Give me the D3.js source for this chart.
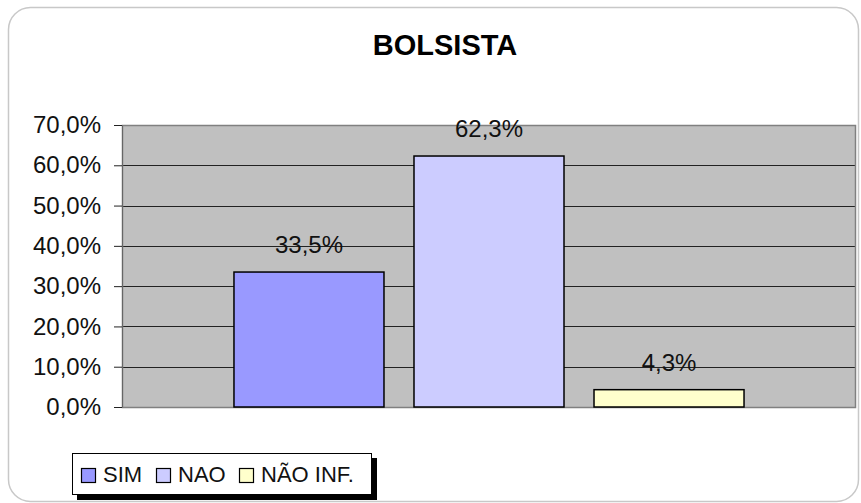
<!DOCTYPE html>
<html>
<head>
<meta charset="utf-8">
<script src="https://cdn.jsdelivr.net/npm/d3@7"></script>
<style>
  body { margin: 0; background: #fff; }
  svg text { font-family: "Liberation Sans", Arial, sans-serif; }
</style>
</head>
<body>
<div id="chart"></div>
<script>
const series = ["SIM", "NAO", "NÃO INF."];
const values = [33.5, 62.3, 4.3];
const colors = ["#9999ff", "#ccccff", "#ffffcc"];
const yTicks = [0, 10, 20, 30, 40, 50, 60, 70];

const W = 861, H = 503;
const margin = {top: 125, right: 5, bottom: 96, left: 122};
const pw = W - margin.left - margin.right,
      ph = H - margin.top - margin.bottom;

const fmt = v => d3.format(".1f")(v).replace(".", ",") + "%";

const svg = d3.select("#chart").append("svg")
    .attr("width", W).attr("height", H);

// outer frame
svg.append("rect")
    .attr("x", 8.5).attr("y", 7.5)
    .attr("width", 850).attr("height", 494)
    .attr("rx", 22).attr("ry", 22)
    .attr("fill", "#fff")
    .attr("stroke", "#c8c8c8")
    .attr("stroke-width", 1.5);

svg.append("text")
    .attr("x", 445).attr("y", 55)
    .attr("text-anchor", "middle")
    .style("font-size", "29px")
    .style("font-weight", "bold")
    .text("BOLSISTA");

const g = svg.append("g")
    .attr("transform", "translate(" + margin.left + "," + margin.top + ")");

const y = d3.scaleLinear().domain([0, 70]).range([ph, 0]);
const x = d3.scaleBand().domain(series).range([0, pw])
    .paddingInner(0.1667).paddingOuter(0.622);

g.append("rect")
    .attr("width", pw).attr("height", ph)
    .attr("fill", "#c0c0c0");

// gridlines
g.selectAll(".grid").data(yTicks.slice(1, -1))
  .enter().append("line")
    .attr("x1", 0).attr("x2", pw)
    .attr("y1", d => Math.round(y(d)) + 0.5)
    .attr("y2", d => Math.round(y(d)) + 0.5)
    .attr("stroke", "#222").attr("stroke-width", 1);

g.append("rect")
    .attr("x", 0.5).attr("y", 0.5)
    .attr("width", pw - 1).attr("height", ph)
    .attr("fill", "none")
    .attr("stroke", "#808080").attr("stroke-width", 1.5);

const yAxis = g.append("g")
    .call(d3.axisLeft(y).tickValues(yTicks).tickSize(8).tickPadding(13)
      .tickFormat(fmt).tickSizeOuter(0));
yAxis.select(".domain").attr("stroke", "#666");
yAxis.selectAll(".tick line").attr("stroke", "#222");
yAxis.selectAll("text")
    .style("font-size", "24px").attr("fill", "#111");

// bars
g.selectAll(".bar").data(values)
  .enter().append("rect")
    .attr("x", (d, i) => x(series[i]))
    .attr("y", d => y(d))
    .attr("width", x.bandwidth())
    .attr("height", d => ph - y(d))
    .attr("fill", (d, i) => colors[i])
    .attr("stroke", "#000").attr("stroke-width", 1.5);

g.selectAll(".lbl").data(values)
  .enter().append("text")
    .attr("x", (d, i) => x(series[i]) + x.bandwidth() / 2)
    .attr("y", d => y(d) - 19)
    .attr("text-anchor", "middle")
    .style("font-size", "24px")
    .attr("fill", "#111")
    .text(fmt);

// legend
const lg = svg.append("g").attr("transform", "translate(72,453)");
lg.append("rect")
    .attr("x", 5).attr("y", 5).attr("width", 300).attr("height", 42)
    .attr("fill", "#000");
lg.append("rect")
    .attr("x", 0.5).attr("y", 0.5).attr("width", 299).attr("height", 41)
    .attr("fill", "#fff").attr("stroke", "#000");

const itemX = [9, 84, 167];
series.forEach(function(s, i) {
  const it = lg.append("g").attr("transform", "translate(" + itemX[i] + ",0)");
  it.append("rect")
      .attr("x", 0.5).attr("y", 15.5).attr("width", 14).attr("height", 14)
      .attr("fill", colors[i]).attr("stroke", "#000").attr("stroke-width", 1.2);
  it.append("text")
      .attr("x", 22).attr("y", 29)
      .style("font-size", "22px")
      .attr("fill", "#111")
      .text(s);
});
</script>
</body>
</html>
